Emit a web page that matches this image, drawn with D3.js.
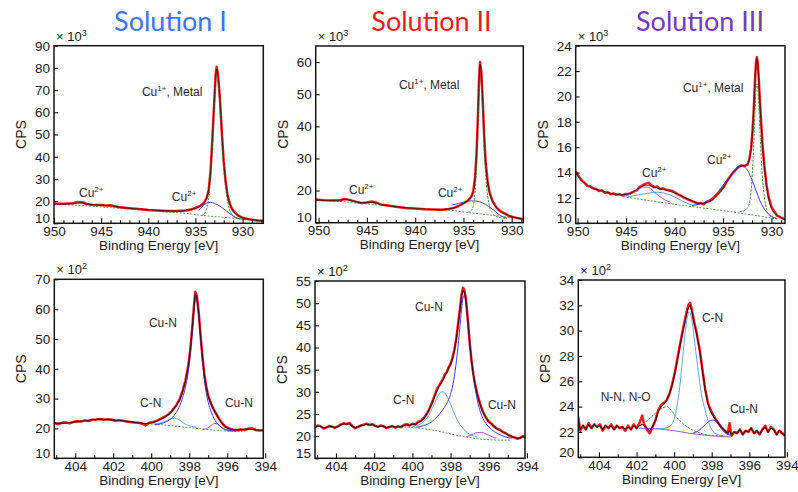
<!DOCTYPE html>
<html>
<head>
<meta charset="utf-8">
<script src="https://cdn.jsdelivr.net/npm/d3@7"></script>
<style>
  body { margin: 0; background: #fff; }
  svg { display: block; }
</style>
</head>
<body>
<svg id="chart" width="798" height="492"></svg>
<script>
// ---------------------------------------------------------------
// Cu 2p region (counts in units of 10^3), [binding energy eV, CPS]
// ---------------------------------------------------------------
const cu2pRawI = [[950,18.8],[949,18.8],[948,19.0],[947.5,19.6],[947,19.5],[946.5,18.7],[946,18.4],[945,18.2],[944.5,18.0],[944,18.1],[943.5,17.6],[943,17.2],[942,16.8],[941,16.4],[940,16.0],[939,15.8],[938,15.5],[937,15.5],[936,15.8],[935.5,16.2],[935,16.9],[934.5,17.8],[934.2,18.8],[934,19.8],[933.8,21.5],[933.6,25],[933.4,33],[933.2,48],[933.0,65],[932.85,77],[932.75,80.5],[932.6,77],[932.4,66],[932.2,51],[932.0,38],[931.8,29],[931.6,23],[931.4,19.5],[931.2,17.2],[931.0,15.7],[930.5,13.6],[930.0,12.5],[929.5,12.0],[929.0,11.6],[928.5,11.3],[927.8,11.1]];
const cu2pFitI = [[950,18.6],[948,18.8],[947.3,19.2],[946.5,18.6],[945,18.1],[944,17.9],[943,17.2],[941,16.4],[939,15.8],[937,15.5],[936,15.8],[935,16.8],[934.5,17.7],[934.0,19.6],[933.8,21.5],[933.6,25],[933.4,33],[933.2,48],[933.0,65],[932.85,76.5],[932.75,79.5],[932.6,76.5],[932.4,66],[932.2,51],[932.0,38],[931.8,29],[931.6,23],[931.4,19.5],[931.0,15.7],[930.5,13.6],[930,12.5],[929,11.6],[927.8,11.1]];
const cu2pMainI = [[934.4,13.4],[934.1,14.0],[933.9,15.5],[933.7,18.5],[933.55,22.5],[933.4,30],[933.2,45],[933.0,62],[932.85,73.5],[932.75,76.5],[932.6,73.5],[932.4,63],[932.2,48],[932.0,35],[931.8,26],[931.6,20],[931.4,16.5],[931.2,14.4],[931.0,13.2],[930.6,12.3],[930.2,11.9],[929.6,11.6]];
const cu2pSatI = [[934.6,16.0],[934.3,17.3],[934.0,18.6],[933.7,19.3],[933.4,19.4],[933.0,19.0],[932.6,18.2],[932.2,17.1],[931.8,15.8],[931.4,14.5],[931.0,13.3],[930.6,12.4],[930.3,12.0]];
const cu2pBgI = [[950,18.5],[948,18.2],[946,17.7],[944,17.1],[942,16.4],[940,15.7],[938,15.1],[936,14.5],[934.4,13.6],[932,12.7],[930,12.0],[928,11.4]];

const cu2pRawII = [[950.3,17.2],[949.5,17.0],[948.5,16.9],[947.8,17.0],[947.3,17.4],[946.8,17.1],[946,16.4],[945.5,16.1],[945,16.3],[944.5,16.6],[944,16.2],[943.5,15.6],[943,15.4],[942,15.0],[941,14.6],[940,14.4],[939,14.2],[938,14.1],[937.3,14.0],[936.5,14.3],[936,14.6],[935.5,15.2],[935,16.0],[934.5,17.0],[934.2,18.0],[934.0,19.5],[933.8,24],[933.65,31],[933.5,43],[933.38,55],[933.28,60],[933.15,57],[933.0,48],[932.85,37],[932.7,29],[932.5,23],[932.3,19.5],[932.0,16.8],[931.6,14.8],[931.2,13.6],[930.7,12.8],[930.2,12.0],[929.5,11.5],[928.8,11.1]];
const cu2pFitII = [[950.3,17.1],[949,16.95],[947.8,17.0],[947.3,17.3],[946.5,16.8],[945.5,16.2],[944.5,16.4],[943.5,15.6],[942,15.0],[940,14.4],[938,14.1],[937.3,14.05],[936.5,14.3],[936,14.6],[935.5,15.2],[935,16.0],[934.5,17.0],[934.2,18.0],[934.0,19.4],[933.8,23.8],[933.65,30.8],[933.5,42.8],[933.38,54.5],[933.28,59.3],[933.15,56.5],[933.0,47.6],[932.85,36.8],[932.7,28.8],[932.5,22.9],[932.3,19.4],[932.0,16.8],[931.6,14.8],[931.2,13.6],[930.7,12.8],[930.2,12.0],[929.5,11.5],[928.8,11.1]];
const cu2pMainII = [[934.6,13.2],[934.2,13.8],[934.0,15.0],[933.8,19.5],[933.65,27],[933.5,39],[933.38,50],[933.28,55.5],[933.15,53],[933.0,44],[932.85,33],[932.7,25],[932.5,18.5],[932.3,15],[932.0,13],[931.6,12.0],[931.2,11.6],[930.7,11.3]];
const cu2pSatII = [[936.2,15.5],[935.5,16.0],[934.8,16.5],[934.2,16.8],[933.6,16.7],[933.0,16.1],[932.4,15.1],[931.9,14.0],[931.4,12.7],[930.9,11.8],[930.5,11.4]];
const cu2pBgII = [[950.3,17.0],[948,16.7],[946,16.1],[944,15.6],[942,15.0],[940,14.5],[938,14.1],[936.2,13.8],[934.6,13.2],[932,12.3],[930,11.6],[929,11.3]];

const cu2pRawIII = [[950.2,14.1],[949.9,13.7],[949.6,13.4],[949.3,13.2],[949.0,12.95],[948.7,12.9],[948.4,12.75],[948.1,12.7],[947.8,12.55],[947.5,12.6],[947.2,12.4],[946.9,12.45],[946.6,12.3],[946.3,12.35],[946.0,12.25],[945.7,12.3],[945.4,12.2],[945.1,12.3],[944.8,12.3],[944.5,12.4],[944.2,12.5],[943.9,12.6],[943.6,12.85],[943.3,13.0],[943.0,13.1],[942.7,13.2],[942.4,13.0],[942.1,12.85],[941.8,12.9],[941.5,12.7],[941.2,12.75],[940.9,12.65],[940.6,12.6],[940.3,12.55],[940.0,12.45],[939.7,12.3],[939.4,12.2],[939.1,12.05],[938.8,11.95],[938.5,11.85],[938.2,11.75],[937.9,11.65],[937.6,11.55],[937.3,11.6],[937.0,11.5],[936.7,11.7],[936.4,11.75],[936.1,11.9],[935.8,12.1],[935.5,12.35],[935.2,12.6],[934.9,12.9],[934.6,13.3],[934.3,13.65],[934.0,13.95],[933.7,14.2],[933.4,14.45],[933.1,14.55],[932.8,14.5],[932.5,14.6],[932.3,15.0],[932.1,15.9],[931.95,17.3],[931.8,19.4],[931.7,21.2],[931.6,22.6],[931.5,23.1],[931.4,22.6],[931.3,21.3],[931.2,19.8],[931.05,17.8],[930.9,16.0],[930.7,14.3],[930.5,13.0],[930.3,12.1],[930.0,11.3],[929.7,10.9],[929.4,10.6],[929.0,10.45],[928.6,10.3]];
const cu2pFitIII = [[950.2,14.0],[949.5,13.3],[948.5,12.8],[947.5,12.55],[946.5,12.35],[945.5,12.25],[944.8,12.3],[944.2,12.5],[943.6,12.8],[943.0,13.0],[942.5,12.95],[942.0,12.8],[941.0,12.65],[940.0,12.4],[939.0,12.05],[938.0,11.7],[937.2,11.55],[936.5,11.7],[936.0,11.9],[935.5,12.3],[935.0,12.8],[934.5,13.4],[934.0,13.95],[933.5,14.35],[933.0,14.55],[932.6,14.6],[932.3,15.0],[932.1,15.9],[931.95,17.3],[931.8,19.4],[931.7,21.1],[931.6,22.5],[931.5,23.0],[931.4,22.5],[931.3,21.2],[931.2,19.7],[931.05,17.7],[930.9,15.9],[930.7,14.2],[930.5,12.9],[930.3,12.0],[930.0,11.2],[929.5,10.7],[928.6,10.3]];
const cu2pMainIII = [[933.3,10.9],[932.8,11.0],[932.4,11.3],[932.2,11.9],[932.05,13.0],[931.9,15.0],[931.8,16.9],[931.7,18.9],[931.6,20.5],[931.5,21.0],[931.4,20.6],[931.3,19.3],[931.2,17.5],[931.05,15.1],[930.9,13.3],[930.7,11.9],[930.5,11.1],[930.2,10.6],[929.8,10.4],[929.4,10.35]];
const cu2pShoulderIII = [[938.2,11.4],[937.5,11.5],[937.0,11.6],[936.5,11.8],[936.0,12.1],[935.5,12.5],[935.0,13.0],[934.5,13.5],[934.0,14.0],[933.6,14.35],[933.2,14.55],[932.8,14.45],[932.4,14.1],[932.0,13.4],[931.6,12.6],[931.2,11.8],[930.8,11.2],[930.4,10.8],[930.0,10.55],[929.5,10.4]];
const cu2pSatAIII = [[945.3,12.1],[944.7,12.25],[944.2,12.45],[943.7,12.7],[943.2,12.85],[942.8,12.85],[942.4,12.7],[942.0,12.4],[941.5,12.1],[941.0,11.85],[940.4,11.65]];
const cu2pSatBIII = [[944.8,12.1],[944,12.2],[943.2,12.3],[942.5,12.4],[941.8,12.45],[941.2,12.4],[940.5,12.25],[939.8,12.0],[939.2,11.75],[938.6,11.55],[938,11.4]];
const cu2pBgIII = [[945.3,12.1],[940,11.5],[935,11.0],[929.4,10.35]];

// ---------------------------------------------------------------
// N 1s region (counts in units of 10^2), [binding energy eV, CPS]
// ---------------------------------------------------------------
const n1sRawI = [[405.1,21.8],[404.9,21.4],[404.7,21.9],[404.5,22.0],[404.3,21.7],[404.1,22.2],[403.9,22.4],[403.7,22.3],[403.5,22.7],[403.3,22.5],[403.1,22.9],[402.9,23.0],[402.7,23.2],[402.5,22.9],[402.3,23.1],[402.1,23.0],[401.9,22.6],[401.7,22.8],[401.5,22.6],[401.3,22.3],[401.1,22.2],[400.9,22.0],[400.7,21.9],[400.5,21.7],[400.3,21.0],[400.1,21.9],[399.9,22.1],[399.7,22.6],[399.5,23.2],[399.3,23.9],[399.1,24.7],[398.9,25.9],[398.7,27.6],[398.5,29.8],[398.35,32.5],[398.2,36],[398.05,41],[397.95,46],[397.85,53],[397.75,61],[397.68,65.8],[397.6,64.5],[397.5,59],[397.4,51],[397.3,44],[397.2,38],[397.1,34],[397.0,31],[396.85,28.3],[396.7,26.2],[396.55,24.6],[396.4,23.0],[396.25,21.6],[396.1,20.6],[395.9,20.0],[395.7,19.6],[395.5,19.4],[395.3,19.7],[395.1,19.5],[394.9,19.9],[394.7,20.1],[394.5,19.5],[394.3,19.3],[394.1,19.4]];
const n1sFitI = [[405.1,21.8],[404.7,21.8],[404.3,21.9],[403.9,22.3],[403.5,22.6],[403.1,22.9],[402.7,23.1],[402.3,23.0],[401.9,22.7],[401.5,22.6],[401.1,22.2],[400.7,21.9],[400.3,21.6],[399.9,22.1],[399.7,22.5],[399.5,23.1],[399.3,23.8],[399.1,24.6],[398.9,25.8],[398.7,27.5],[398.5,29.7],[398.35,32.4],[398.2,35.8],[398.05,40.8],[397.95,45.8],[397.85,52.8],[397.75,60.5],[397.68,65.2],[397.6,64],[397.5,58.7],[397.4,50.8],[397.3,43.8],[397.2,37.9],[397.1,33.8],[397.0,30.9],[396.85,28.2],[396.7,26.1],[396.55,24.5],[396.4,22.9],[396.25,21.5],[396.1,20.5],[395.9,19.9],[395.6,19.5],[395.3,19.6],[394.9,19.8],[394.5,19.5],[394.1,19.4]];
const n1sCuNI = [[399.8,21.2],[399.5,21.6],[399.2,22.3],[398.9,23.6],[398.7,25.2],[398.5,27.6],[398.35,30.3],[398.2,33.8],[398.05,39],[397.95,44.5],[397.85,51.5],[397.75,59.5],[397.68,64.5],[397.6,63.2],[397.5,57.8],[397.4,49.8],[397.3,42.5],[397.2,36.3],[397.1,32],[397.0,28.8],[396.85,25.6],[396.7,23.4],[396.55,21.9],[396.4,20.9],[396.2,20.0],[395.9,19.4],[395.6,19.1]];
const n1sCNI = [[399.9,21.5],[399.6,21.7],[399.3,22.3],[399.1,22.9],[398.9,23.3],[398.75,23.4],[398.6,23.1],[398.4,22.3],[398.2,21.4],[398.0,20.9],[397.8,20.6],[397.6,20.4]];
const n1sCuN2I = [[397.3,19.7],[397.1,19.9],[396.95,20.5],[396.8,21.3],[396.65,21.7],[396.5,21.4],[396.35,20.6],[396.2,19.8],[396.0,19.3],[395.8,19.1]];
const n1sBgI = [[400.4,21.6],[399.8,21.4],[399.2,21.1],[398.6,20.7],[398.0,20.3],[397.4,19.9],[396.8,19.5],[396.2,19.2],[395.6,19.0],[395.2,19.0]];

const n1sRawII = [[405.1,22.0],[404.95,22.4],[404.8,22.2],[404.65,21.7],[404.5,22.0],[404.35,22.3],[404.2,22.1],[404.05,21.9],[403.9,22.2],[403.75,22.6],[403.6,22.9],[403.45,22.7],[403.3,23.0],[403.15,22.3],[403.0,21.8],[402.85,22.1],[402.7,22.4],[402.55,22.6],[402.4,22.8],[402.25,22.5],[402.1,22.7],[401.95,22.3],[401.8,22.1],[401.65,22.4],[401.5,22.2],[401.35,21.8],[401.2,22.1],[401.05,22.3],[400.9,21.9],[400.75,22.2],[400.6,22.0],[400.45,22.5],[400.3,22.7],[400.15,22.4],[400.0,22.8],[399.85,22.6],[399.7,23.2],[399.55,23.5],[399.4,24.1],[399.25,25.0],[399.1,26.2],[398.95,27.8],[398.8,29.6],[398.7,30.8],[398.6,31.4],[398.5,32.1],[398.4,32.8],[398.3,33.9],[398.2,34.4],[398.1,35.5],[398.0,36.3],[397.9,37.6],[397.8,39.5],[397.7,42],[397.6,45.5],[397.5,49],[397.42,52],[397.35,53.5],[397.28,53],[397.2,51.2],[397.1,46.5],[397.0,41.2],[396.9,37],[396.8,33.8],[396.7,31.4],[396.6,29.5],[396.5,28.0],[396.4,26.6],[396.3,25.5],[396.15,24.2],[396.0,23.3],[395.85,22.8],[395.7,22.1],[395.55,21.6],[395.4,21.4],[395.25,20.9],[395.1,20.6],[394.95,20.2],[394.8,19.9],[394.65,19.7],[394.5,19.4],[394.35,19.6],[394.2,20.0],[394.1,19.8]];
const n1sFitII = [[405.1,22.0],[404.95,22.3],[404.8,22.2],[404.65,21.8],[404.5,22.0],[404.35,22.2],[404.2,22.1],[404.05,21.9],[403.9,22.2],[403.75,22.5],[403.6,22.8],[403.45,22.7],[403.3,22.8],[403.15,22.3],[403.0,21.9],[402.85,22.1],[402.7,22.4],[402.55,22.5],[402.4,22.7],[402.25,22.5],[402.1,22.6],[401.95,22.3],[401.8,22.1],[401.65,22.3],[401.5,22.2],[401.35,21.9],[401.2,22.1],[401.05,22.2],[400.9,22.0],[400.75,22.2],[400.6,22.1],[400.45,22.4],[400.3,22.5],[400.15,22.4],[400.0,22.7],[399.85,22.7],[399.7,23.0],[399.55,23.4],[399.4,24.0],[399.25,24.9],[399.1,26.1],[398.95,27.6],[398.8,29.3],[398.6,31.2],[398.4,32.7],[398.2,34.4],[398.0,36.2],[397.9,37.5],[397.8,39.3],[397.7,41.8],[397.6,45.2],[397.5,48.8],[397.42,51.6],[397.35,52.9],[397.28,52.6],[397.2,50.9],[397.1,46.3],[397.0,41.1],[396.9,36.9],[396.8,33.7],[396.7,31.3],[396.6,29.4],[396.5,27.9],[396.4,26.5],[396.3,25.4],[396.15,24.1],[396.0,23.2],[395.85,22.7],[395.7,22.0],[395.55,21.6],[395.4,21.3],[395.25,20.9],[395.1,20.6],[394.95,20.2],[394.8,19.9],[394.65,19.7],[394.5,19.5],[394.35,19.6],[394.2,19.9],[394.1,19.8]];
const n1sCuNII = [[399.8,22.0],[399.4,22.4],[399.0,23.2],[398.7,24.4],[398.4,26.0],[398.15,27.8],[397.95,30.2],[397.8,33.5],[397.65,38.5],[397.5,45],[397.4,49.5],[397.32,51.6],[397.25,51.3],[397.15,48.5],[397.05,44],[396.95,39.5],[396.85,35.3],[396.7,30.6],[396.55,27.2],[396.4,25],[396.2,23.2],[396.0,22.1],[395.7,21.0],[395.4,20.3],[395.1,19.8],[394.8,19.5]];
const n1sCNII = [[400.0,22.1],[399.7,22.5],[399.4,23.3],[399.15,24.6],[398.95,26.3],[398.8,27.8],[398.65,29.1],[398.5,29.9],[398.4,30.0],[398.3,29.7],[398.15,28.7],[398.0,27.2],[397.85,25.6],[397.7,24.1],[397.5,22.6],[397.3,21.5],[397.1,20.7],[396.9,20.2],[396.6,19.8]];
const n1sCuN2II = [[397.2,19.8],[397.0,20.1],[396.8,20.5],[396.6,20.8],[396.4,20.85],[396.2,20.6],[396.0,20.2],[395.8,19.8],[395.6,19.5]];
const n1sBgII = [[400.8,22.1],[400.2,22.0],[399.6,21.8],[399.0,21.4],[398.4,20.9],[397.8,20.3],[397.2,19.8],[396.6,19.4],[396.0,19.2],[395.4,19.1],[394.9,19.1]];

const n1sRawIII = [[405.1,23.2],[405.0,22.1],[404.85,22.5],[404.7,22.2],[404.55,22.7],[404.4,22.3],[404.25,22.6],[404.1,22.4],[403.95,22.6],[403.8,22.1],[403.65,22.5],[403.5,22.3],[403.35,22.6],[403.2,22.2],[403.05,22.5],[402.9,22.3],[402.75,22.4],[402.6,22.1],[402.45,22.5],[402.3,22.2],[402.15,22.6],[402.0,22.3],[401.85,22.7],[401.7,23.3],[401.6,22.6],[401.45,22.2],[401.3,21.9],[401.15,22.4],[401.0,22.9],[400.85,23.7],[400.7,24.1],[400.55,24.3],[400.4,24.5],[400.25,25.0],[400.1,25.8],[399.95,26.8],[399.8,28.0],[399.65,29.2],[399.5,30.3],[399.35,31.4],[399.25,32.0],[399.15,32.2],[399.05,31.6],[398.95,30.8],[398.8,29.8],[398.65,28.6],[398.5,27.0],[398.35,25.4],[398.2,24.3],[398.05,23.7],[397.9,23.3],[397.75,22.9],[397.6,22.6],[397.45,22.3],[397.3,22.1],[397.15,21.9],[397.05,22.7],[396.95,21.7],[396.8,22.0],[396.65,21.9],[396.5,22.2],[396.35,21.8],[396.2,22.1],[396.05,22.0],[395.9,22.3],[395.75,21.9],[395.6,22.1],[395.45,21.8],[395.3,22.2],[395.15,22.5],[395.0,22.0],[394.85,22.4],[394.7,22.2],[394.55,21.8],[394.4,22.1],[394.25,21.9],[394.1,21.7]];
const n1sFitIII = [[405.1,22.9],[405.0,22.2],[404.85,22.5],[404.7,22.2],[404.55,22.6],[404.4,22.3],[404.25,22.6],[404.1,22.4],[403.95,22.5],[403.8,22.2],[403.65,22.5],[403.5,22.3],[403.35,22.5],[403.2,22.2],[403.05,22.5],[402.9,22.3],[402.75,22.4],[402.6,22.2],[402.45,22.4],[402.3,22.2],[402.15,22.5],[402.0,22.3],[401.85,22.5],[401.7,22.6],[401.6,22.5],[401.45,22.3],[401.3,22.1],[401.15,22.4],[401.0,22.9],[400.85,23.6],[400.7,24.0],[400.55,24.2],[400.4,24.5],[400.25,25.0],[400.1,25.7],[399.95,26.7],[399.8,27.9],[399.65,29.1],[399.5,30.2],[399.35,31.2],[399.25,31.8],[399.15,32.0],[399.05,31.5],[398.95,30.7],[398.8,29.7],[398.65,28.5],[398.5,26.9],[398.35,25.3],[398.2,24.2],[398.05,23.6],[397.9,23.2],[397.75,22.9],[397.6,22.6],[397.45,22.3],[397.3,22.1],[397.15,21.9],[397.05,22.1],[396.95,21.8],[396.8,22.0],[396.65,21.9],[396.5,22.2],[396.35,21.8],[396.2,22.1],[396.05,22.0],[395.9,22.3],[395.75,21.9],[395.6,22.1],[395.45,21.8],[395.3,22.2],[395.15,22.4],[395.0,22.0],[394.85,22.3],[394.7,22.2],[394.55,21.8],[394.4,22.1],[394.25,21.9],[394.1,21.7]];
const n1sCNIII = [[401.0,22.25],[400.5,22.3],[400.2,22.5],[400.0,23.0],[399.85,24.0],[399.7,25.6],[399.55,27.8],[399.4,30.0],[399.2,31.5],[399.05,30.8],[398.9,29.0],[398.75,27.2],[398.6,25.5],[398.4,24.0],[398.2,22.9],[398.0,22.2],[397.7,21.8],[397.4,21.7]];
const n1sNNIII = [[402.0,22.35],[401.6,22.7],[401.2,23.2],[400.9,23.6],[400.6,23.9],[400.4,24.0],[400.2,23.8],[400.0,23.4],[399.7,22.9],[399.4,22.5],[399.0,22.15],[398.6,21.9],[398.2,21.75],[397.8,21.7],[397.2,21.65]];
const n1sCuNIII = [[399.0,21.9],[398.7,22.1],[398.4,22.5],[398.15,22.85],[397.95,22.95],[397.75,22.8],[397.5,22.3],[397.3,21.95],[397.0,21.75]];
const n1sBgIII = [[401.9,22.3],[401.0,22.25],[400.0,22.1],[399.2,21.9],[398.4,21.75],[397.6,21.65],[397.0,21.6]];

// ---------------------------------------------------------------
// Axis tick values
// ---------------------------------------------------------------
const cu2pTicksX = [950, 945, 940, 935, 930];
const n1sTicksX = [404, 402, 400, 398, 396, 394];
const cu2pTicksYI = [10, 20, 30, 40, 50, 60, 70, 80, 90];
const cu2pTicksYII = [10, 20, 30, 40, 50, 60];
const cu2pTicksYIII = [10, 12, 14, 16, 18, 20, 22, 24];
const n1sTicksYI = [10, 20, 30, 40, 50, 60, 70];
const n1sTicksYII = [15, 20, 25, 30, 35, 40, 45, 50, 55];
const n1sTicksYIII = [20, 22, 24, 26, 28, 30, 32, 34];

const titles = ["Solution I", "Solution II", "Solution III"];

// ---------------------------------------------------------------
// Styles
// ---------------------------------------------------------------
const FONT = "'Liberation Sans', Arial, Helvetica, sans-serif";
const RED = "#f21c1c";
const DARK = "#2a0606";
const GREEN = "#3f9a43";
const BLUE = "#3b3be6";
const LIGHTBLUE = "#5aa6f5";
const PURPLE = "#a64ee0";
const style = {
  raw:   { color: RED, width: 2.5, smooth: false },
  fit:   { color: DARK, width: 0.7, smooth: true },
  trace: { color: "#4a0808", width: 1.1, smooth: false },
  green: { color: GREEN, width: 1, smooth: true, dash: "2.5,1.2" },
  bg:    { color: "#5f9a6a", width: 1, smooth: true, dash: "2,1.5" },
  blue:  { color: BLUE, width: 1, smooth: true },
  light: { color: LIGHTBLUE, width: 1, smooth: true },
  purple:{ color: PURPLE, width: 1, smooth: true }
};

const panels = [
  { box: {left: 54, top: 45.7, right: 263.3, bottom: 223.3}, xDomain: [950, 927.8], yDomain: [10, 90],
    xTicks: cu2pTicksX, minorStep: 1, yTicks: cu2pTicksYI, exp: "3",
    title: titles[0], titleColor: "#3a77ee", titleX: 170.5,
    series: [[cu2pBgI, style.bg], [cu2pRawI, style.raw], [cu2pSatI, style.blue], [cu2pMainI, style.green], [cu2pFitI, style.fit]],
    labels: [{t: "Cu", s: "1+", r: ", Metal", at: [940.67, 67.3]}, {t: "Cu", s: "2+", at: [947.35, 21.8]}, {t: "Cu", s: "2+", at: [937.5, 20.0]}] },
  { box: {left: 315.7, top: 46, right: 523.3, bottom: 222.7}, xDomain: [950.3, 928.8], yDomain: [10, 65],
    xTicks: cu2pTicksX, minorStep: 1, yTicks: cu2pTicksYII, exp: "3",
    title: titles[1], titleColor: "#f01a1a", titleX: 431.5,
    series: [[cu2pBgII, style.bg], [cu2pRawII, style.raw], [cu2pSatII, style.blue], [cu2pMainII, style.green], [cu2pFitII, style.fit]],
    labels: [{t: "Cu", s: "1+", r: ", Metal", at: [941.68, 51.65]}, {t: "Cu", s: "2+", at: [946.85, 18.9]}, {t: "Cu", s: "2+", at: [937.64, 18.0]}] },
  { box: {left: 575.7, top: 45.7, right: 785, bottom: 223.3}, xDomain: [950.2, 928.6], yDomain: [10, 24],
    xTicks: cu2pTicksX, minorStep: 1, yTicks: cu2pTicksYIII, exp: "3",
    title: titles[2], titleColor: "#7638c6", titleX: 700,
    series: [[cu2pBgIII, style.bg], [cu2pRawIII, style.raw], [cu2pSatBIII, style.light], [cu2pSatAIII, style.purple], [cu2pShoulderIII, style.blue], [cu2pMainIII, style.green], [cu2pFitIII, style.fit]],
    labels: [{t: "Cu", s: "1+", r: ", Metal", at: [939.13, 20.35]}, {t: "Cu", s: "2+", at: [943.36, 13.65]}, {t: "Cu", s: "2+", at: [936.65, 14.68]}] },
  { box: {left: 54.3, top: 279.3, right: 263.3, bottom: 458.3}, xDomain: [405.1, 394.1], yDomain: [10, 70],
    xTicks: n1sTicksX, minorStep: 1, yTicks: n1sTicksYI, exp: "2",
    series: [[n1sBgI, style.bg], [n1sRawI, style.raw], [n1sCNI, style.light], [n1sCuN2I, style.purple], [n1sCuNI, style.blue], [n1sFitI, style.trace]],
    labels: [{t: "Cu-N", at: [400.12, 54.0]}, {t: "C-N", at: [400.59, 27.2]}, {t: "Cu-N", at: [396.12, 27.2]}] },
  { box: {left: 315, top: 281, right: 525, bottom: 458.3}, xDomain: [405.1, 394.1], yDomain: [15, 55],
    xTicks: n1sTicksX, minorStep: 1, yTicks: n1sTicksYII, exp: "2",
    series: [[n1sBgII, style.bg], [n1sRawII, style.raw], [n1sCNII, style.light], [n1sCuN2II, style.purple], [n1sCuNII, style.blue], [n1sFitII, style.trace]],
    labels: [{t: "Cu-N", at: [399.86, 48.25]}, {t: "C-N", at: [401.01, 27.26]}, {t: "Cu-N", at: [396.04, 26.13]}] },
  { box: {left: 578.3, top: 280, right: 785, bottom: 457.3}, xDomain: [405.1, 394.1], yDomain: [20, 34],
    xTicks: n1sTicksX, minorStep: 1, yTicks: n1sTicksYIII, exp: "2",
    series: [[n1sRawIII, style.raw], [n1sBgIII, style.purple], [n1sNNIII, style.green], [n1sCuNIII, style.blue], [n1sCNIII, style.light], [n1sFitIII, style.trace]],
    labels: [{t: "C-N", at: [398.52, 30.69]}, {t: "N-N, N-O", at: [403.91, 24.45]}, {t: "Cu-N", at: [397.03, 23.5]}] }
];

const svg = d3.select("#chart");
svg.append("rect").attr("width", 798).attr("height", 492).attr("fill", "#fff");
const defs = svg.append("defs");

panels.forEach((p, i) => {
  const b = p.box;
  const x = d3.scaleLinear().domain(p.xDomain).range([b.left, b.right]);
  const y = d3.scaleLinear().domain(p.yDomain).range([b.bottom, b.top]);
  const g = svg.append("g").attr("class", "panel");

  defs.append("clipPath").attr("id", "clip" + i)
    .append("rect").attr("x", b.left).attr("y", b.top)
    .attr("width", b.right - b.left).attr("height", b.bottom - b.top);

  // spectra and fitted components
  const plot = g.append("g").attr("clip-path", `url(#clip${i})`);
  p.series.forEach(([data, st]) => {
    const line = d3.line()
      .x(d => x(d[0])).y(d => y(d[1]))
      .curve(st.smooth ? d3.curveMonotoneX : d3.curveLinear);
    plot.append("path").datum(data)
      .attr("d", line)
      .attr("fill", "none")
      .attr("stroke", st.color)
      .attr("stroke-width", st.width)
      .attr("stroke-linejoin", "round")
      .attr("stroke-dasharray", st.dash || null);
  });

  // x axis: labelled major ticks and minor ticks, pointing inwards
  const lo = Math.min(...p.xDomain), hi = Math.max(...p.xDomain);
  const minors = d3.range(Math.ceil(lo), Math.floor(hi) + 0.001, p.minorStep)
    .filter(v => !p.xTicks.includes(v));
  const xMinor = g.append("g").attr("transform", `translate(0,${b.bottom})`)
    .call(d3.axisBottom(x).tickValues(minors).tickFormat("").tickSizeInner(-3).tickSizeOuter(0));
  const xMajor = g.append("g").attr("transform", `translate(0,${b.bottom})`)
    .call(d3.axisBottom(x).tickValues(p.xTicks).tickFormat(d3.format("d")).tickSizeInner(-5).tickSizeOuter(0).tickPadding(3));
  const yAx = g.append("g").attr("transform", `translate(${b.left},0)`)
    .call(d3.axisLeft(y).tickValues(p.yTicks).tickFormat(d3.format("d")).tickSizeInner(-4).tickSizeOuter(0).tickPadding(4));
  [xMinor, xMajor, yAx].forEach(a => {
    a.select(".domain").remove();
    a.selectAll("line").attr("stroke", "#111").attr("stroke-width", 1.1);
    a.selectAll("text").attr("font-family", FONT).attr("font-size", 13.5).attr("fill", "#1a1a1a");
  });
  // lowest value label sits just above the corner, clear of the x labels
  yAx.selectAll(".tick text").filter(d => d === p.yTicks[0]).attr("dy", "-0.08em");

  // frame
  g.append("rect")
    .attr("x", b.left).attr("y", b.top)
    .attr("width", b.right - b.left).attr("height", b.bottom - b.top)
    .attr("fill", "none").attr("stroke", "#151515").attr("stroke-width", 1.5);

  // axis titles
  g.append("text")
    .attr("x", (b.left + b.right) / 2).attr("y", b.bottom + 26.5)
    .attr("text-anchor", "middle").attr("font-family", FONT).attr("font-size", 13.5)
    .attr("fill", "#1a1a1a").text("Binding Energy [eV]");
  g.append("text")
    .attr("transform", `translate(${b.left - 33},${(b.top + b.bottom) / 2}) rotate(-90)`)
    .attr("text-anchor", "middle").attr("dy", "0.36em")
    .attr("font-family", FONT).attr("font-size", 14).attr("fill", "#1a1a1a").text("CPS");

  // multiplier
  const m = g.append("text")
    .attr("x", b.left + 2).attr("y", b.top - 5)
    .attr("font-family", FONT).attr("font-size", 13).attr("fill", "#1a1a1a");
  m.append("tspan").text("× 10");
  m.append("tspan").attr("font-size", 9).attr("dy", -5).text(p.exp);

  // peak annotations
  p.labels.forEach(l => {
    const t = g.append("text")
      .attr("x", x(l.at[0])).attr("y", y(l.at[1]))
      .attr("font-family", FONT).attr("font-size", 12).attr("fill", "#2a2a2a");
    t.append("tspan").text(l.t);
    if (l.s) {
      t.append("tspan").attr("font-size", 8).attr("dy", -5).text(l.s);
      if (l.r) t.append("tspan").attr("dy", 5).text(l.r);
    }
  });

  // column title
  if (p.title) {
    svg.append("text")
      .attr("x", p.titleX).attr("y", 31)
      .attr("text-anchor", "middle")
      .attr("font-family", "Lato, 'Open Sans', sans-serif").attr("font-size", 27)
      .attr("fill", p.titleColor).text(p.title);
  }
});
</script>
</body>
</html>
